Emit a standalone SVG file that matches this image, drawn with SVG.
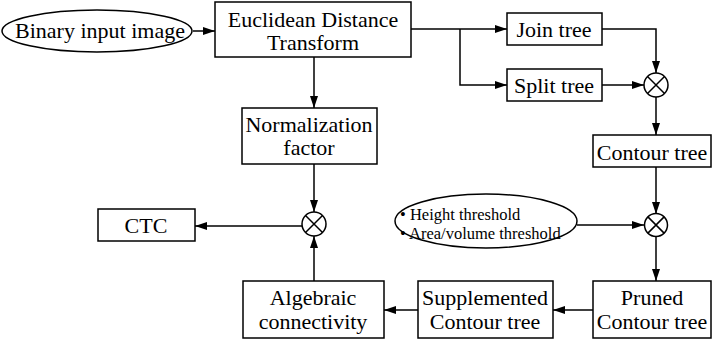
<svg xmlns="http://www.w3.org/2000/svg" width="713" height="344" viewBox="0 0 713 344">
<style>
.box{fill:#fff;stroke:#000;stroke-width:1.5}
.ln{fill:none;stroke:#000;stroke-width:1.5}
.t{font-family:"Liberation Serif","Times New Roman",serif;font-size:22px;fill:#000;text-anchor:middle}
.s{font-family:"Liberation Serif","Times New Roman",serif;font-size:16.5px;fill:#000}
</style>
<defs>
<marker id="ah" viewBox="0 0 12 8" refX="12" refY="4" markerWidth="12" markerHeight="8" markerUnits="userSpaceOnUse" orient="auto">
<path d="M0,0 L12,4 L0,8 Z" fill="#000"/>
</marker>
</defs>
<g id="connectors">
<line class="ln" x1="193" y1="31" x2="215" y2="31" marker-end="url(#ah)"/>
<polyline class="ln" points="411,29 507,29" marker-end="url(#ah)"/>
<polyline class="ln" points="460,29 460,85 507,85" marker-end="url(#ah)"/>
<polyline class="ln" points="602,29 656,29 656,73" marker-end="url(#ah)"/>
<line class="ln" x1="602" y1="85" x2="644" y2="85" marker-end="url(#ah)"/>
<line class="ln" x1="656" y1="97" x2="656" y2="135" marker-end="url(#ah)"/>
<line class="ln" x1="656" y1="167" x2="656" y2="214" marker-end="url(#ah)"/>
<line class="ln" x1="577" y1="225" x2="644" y2="225" marker-end="url(#ah)"/>
<line class="ln" x1="656" y1="237" x2="656" y2="281" marker-end="url(#ah)"/>
<line class="ln" x1="593" y1="310" x2="553" y2="310" marker-end="url(#ah)"/>
<line class="ln" x1="418" y1="310" x2="384" y2="310" marker-end="url(#ah)"/>
<line class="ln" x1="314" y1="281" x2="314" y2="236" marker-end="url(#ah)"/>
<line class="ln" x1="314" y1="57" x2="314" y2="108" marker-end="url(#ah)"/>
<line class="ln" x1="314" y1="164" x2="314" y2="212" marker-end="url(#ah)"/>
<line class="ln" x1="302" y1="226" x2="195" y2="226" marker-end="url(#ah)"/>
</g>
<g id="binary">
<ellipse class="box" cx="97" cy="31" rx="95" ry="21"/>
<text class="t" x="100" y="38">Binary input image</text>
</g>
<g id="edt">
<rect class="box" x="215" y="2" width="196" height="55"/>
<text class="t" x="313" y="27">Euclidean Distance</text>
<text class="t" x="313" y="50">Transform</text>
</g>
<g id="join">
<rect class="box" x="507" y="13" width="95" height="32"/>
<text class="t" x="554" y="37">Join tree</text>
</g>
<g id="split">
<rect class="box" x="507" y="69" width="95" height="32"/>
<text class="t" x="554" y="93">Split tree</text>
</g>
<g id="mul1">
<circle class="box" cx="656" cy="85" r="12"/>
<path class="ln" d="M647.5,76.5 L664.5,93.5 M664.5,76.5 L647.5,93.5"/>
</g>
<g id="contour">
<rect class="box" x="593" y="135" width="118" height="32"/>
<text class="t" x="652" y="160">Contour tree</text>
</g>
<g id="thresholds">
<ellipse class="box" cx="486" cy="221" rx="91" ry="27"/>
<text class="s" x="400" y="220">• Height threshold</text>
<text class="s" x="400" y="239">• Area/volume threshold</text>
</g>
<g id="mul2">
<circle class="box" cx="656" cy="225" r="11.5"/>
<path class="ln" d="M647.9,216.9 L664.1,233.1 M664.1,216.9 L647.9,233.1"/>
</g>
<g id="pruned">
<rect class="box" x="593" y="281" width="118" height="57"/>
<text class="t" x="652" y="305">Pruned</text>
<text class="t" x="652" y="329">Contour tree</text>
</g>
<g id="supplemented">
<rect class="box" x="418" y="281" width="135" height="57"/>
<text class="t" x="485" y="305">Supplemented</text>
<text class="t" x="485" y="329">Contour tree</text>
</g>
<g id="algebraic">
<rect class="box" x="243" y="281" width="141" height="57"/>
<text class="t" x="313" y="305">Algebraic</text>
<text class="t" x="313" y="329">connectivity</text>
</g>
<g id="normalization">
<rect class="box" x="242" y="108" width="135" height="56"/>
<text class="t" x="309" y="132">Normalization</text>
<text class="t" x="309" y="155">factor</text>
</g>
<g id="mul3">
<circle class="box" cx="314" cy="224" r="12"/>
<path class="ln" d="M305.5,215.5 L322.5,232.5 M322.5,215.5 L305.5,232.5"/>
</g>
<g id="ctc">
<rect class="box" x="98" y="209" width="97" height="32"/>
<text class="t" x="146" y="233">CTC</text>
</g>
</svg>
